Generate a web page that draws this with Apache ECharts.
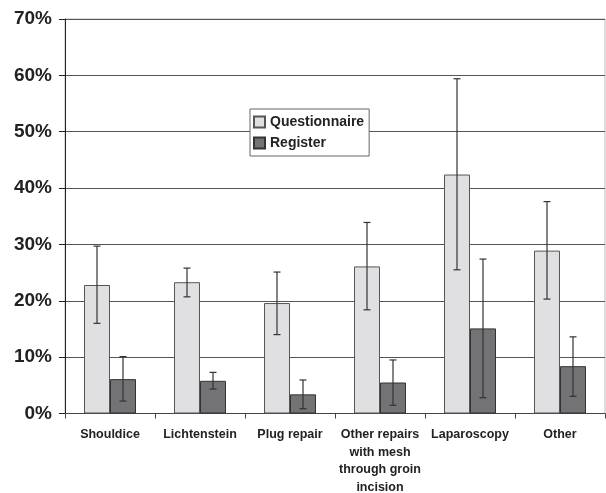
<!DOCTYPE html>
<html>
<head>
<meta charset="utf-8">
<script src="https://cdn.jsdelivr.net/npm/echarts@6/dist/echarts.min.js"></script>
<style>
  html, body { margin: 0; padding: 0; background: #fff; }
  #chart { width: 606px; height: 493px; }
</style>
</head>
<body>
<div id="chart"></div>
<script>
// Repair methods and percentages (with 95% interval bounds)
const categories = ['Shouldice', 'Lichtenstein', 'Plug repair',
  'Other repairs\nwith mesh\nthrough groin\nincision', 'Laparoscopy', 'Other'];
const questionnaire = [22.8, 23.3, 19.6, 26.1, 42.4, 28.9];
const questionnaireLow = [16.0, 20.7, 14.0, 18.4, 25.5, 20.3];
const questionnaireHigh = [29.7, 25.8, 25.1, 33.9, 59.4, 37.6];
const register = [6.1, 5.8, 3.4, 5.5, 15.1, 8.4];
const registerLow = [2.2, 4.35, 0.85, 1.45, 2.8, 3.05];
const registerHigh = [10.1, 7.3, 5.95, 9.5, 27.4, 13.6];
const yTicks = [0, 10, 20, 30, 40, 50, 60, 70];

const BAR_W = 26;
const font = '"Liberation Sans", Arial, sans-serif';

function errorBars(low, high, offset) {
  return {
    type: 'custom',
    silent: true,
    z: 5,
    data: low.map((l, i) => [i, l, high[i]]),
    renderItem: function (params, api) {
      const lo = api.coord([api.value(0), api.value(1)]);
      const hi = api.coord([api.value(0), api.value(2)]);
      const x = lo[0] + offset;
      const cap = 3.5;
      const style = { stroke: '#333', lineWidth: 1.2 };
      return {
        type: 'group',
        children: [
          { type: 'line', shape: { x1: x, y1: lo[1], x2: x, y2: hi[1] }, style },
          { type: 'line', shape: { x1: x - cap, y1: hi[1], x2: x + cap, y2: hi[1] }, style },
          { type: 'line', shape: { x1: x - cap, y1: lo[1], x2: x + cap, y2: lo[1] }, style }
        ]
      };
    }
  };
}

const chart = echarts.init(document.getElementById('chart'));
chart.setOption({
  animation: false,
  backgroundColor: '#fff',
  grid: {
    left: 65, right: 1, top: 19, bottom: 79.5,
    outerBoundsMode: 'none', containLabel: false,
    show: true, borderColor: '#bbb', borderWidth: 1
  },
  legend: {
    orient: 'vertical',
    left: 250, top: 109,
    data: ['Questionnaire', 'Register'],
    icon: 'rect',
    itemWidth: 11, itemHeight: 11, itemGap: 7,
    padding: [6, 5, 6, 3],
    backgroundColor: '#fff',
    borderColor: '#666', borderWidth: 1,
    textStyle: { fontFamily: font, fontWeight: 'bold', fontSize: 14, color: '#222' }
  },
  xAxis: {
    type: 'category',
    data: categories,
    axisLine: { lineStyle: { color: '#444', width: 1 } },
    axisTick: { show: true, length: 5, lineStyle: { color: '#444' } },
    axisLabel: {
      interval: 0, margin: 12, lineHeight: 17.8,
      fontFamily: font, fontWeight: 'bold', fontSize: 12.5, color: '#222'
    }
  },
  yAxis: {
    type: 'value',
    min: yTicks[0], max: yTicks[yTicks.length - 1], interval: 10,
    axisLine: { show: true, lineStyle: { color: '#222', width: 1 } },
    axisTick: { show: true, length: 6, lineStyle: { color: '#222' } },
    axisLabel: {
      formatter: '{value}%', margin: 13,
      fontFamily: font, fontWeight: 'bold', fontSize: 19, color: '#222'
    },
    splitLine: { lineStyle: { color: '#555', width: 1 } }
  },
  series: [
    {
      name: 'Questionnaire', type: 'bar', data: questionnaire,
      barWidth: BAR_W, barGap: '0%',
      itemStyle: { color: '#e0e0e2', borderColor: '#555', borderWidth: 1 }
    },
    {
      name: 'Register', type: 'bar', data: register,
      barWidth: BAR_W, barGap: '0%',
      itemStyle: { color: '#737376', borderColor: '#333', borderWidth: 1 }
    },
    errorBars(questionnaireLow, questionnaireHigh, -BAR_W / 2),
    errorBars(registerLow, registerHigh, BAR_W / 2)
  ]
});
</script>
</body>
</html>
